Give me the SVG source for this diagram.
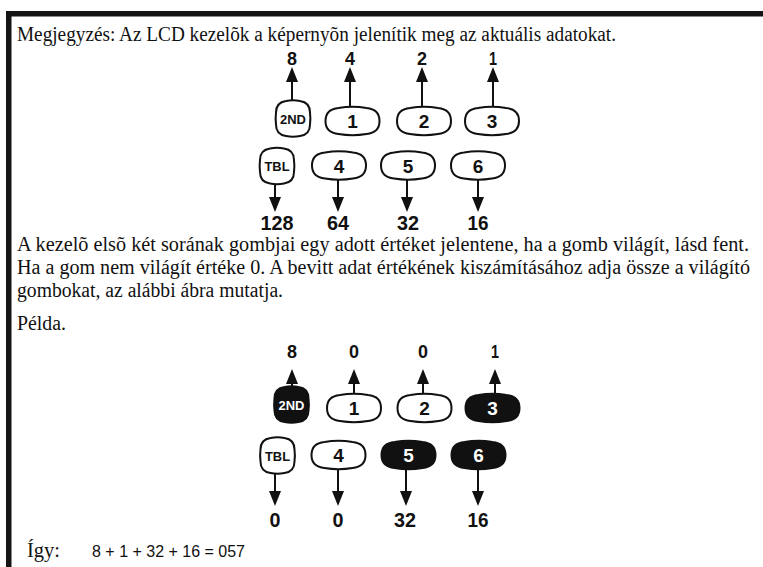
<svg xmlns="http://www.w3.org/2000/svg" width="763" height="567" viewBox="0 0 763 567">
  <style>
    .body { font-family: "Liberation Serif", "Times New Roman", serif; font-size: 20.5px; fill: #111; }
    .val { font-family: "Liberation Sans", Arial, sans-serif; font-weight: bold; font-size: 18px; fill: #111; text-anchor: middle; }
    .valb { font-family: "Liberation Sans", Arial, sans-serif; font-weight: bold; font-size: 20px; fill: #111; text-anchor: middle; }
    .key { fill: #fff; stroke: #111; stroke-width: 2; }
    .key.on { fill: #111; }
    .klab { font-family: "Liberation Sans", Arial, sans-serif; font-weight: bold; font-size: 19px; fill: #111; text-anchor: middle; }
    .ksm { font-family: "Liberation Sans", Arial, sans-serif; font-weight: bold; font-size: 13px; fill: #111; text-anchor: middle; }
    .on-t { fill: #fff; }
    .wire { stroke: #111; stroke-width: 2; fill: none; }
    .head { fill: #111; }
    .formula { font-family: "Liberation Sans", Arial, sans-serif; font-size: 16px; fill: #111; }
  </style>
  <defs>
    <!-- pill-shaped key, centred on the origin -->
    <path id="pill" d="M -14,-13 C -5,-14.5 5,-14.5 14,-13 C 24,-12 27,-6 27,0 C 27,6 24,12 14,13 C 5,14.5 -5,14.5 -14,13 C -24,12 -27,6 -27,0 C -27,-6 -24,-12 -14,-13 Z"/>
    <!-- square-ish function key, centred on the origin -->
    <path id="sq" d="M -7,-17.5 C -2,-18.5 2,-18.5 7,-17.5 C 14,-16.5 17,-13 17,-6 C 17.5,-2 17.5,2 17,6 C 17,13 14,16.5 7,17.5 C 2,18.5 -2,18.5 -7,17.5 C -14,16.5 -17,13 -17,6 C -17.5,2 -17.5,-2 -17,-6 C -17,-13 -14,-16.5 -7,-17.5 Z"/>
    <path id="up" d="M 0,0 L -6,15 L 6,15 Z"/>
    <path id="dn" d="M 0,0 L -6,-15 L 6,-15 Z"/>
  </defs>

  <rect width="763" height="567" fill="#fff"/>
  <!-- page frame: top and left rules -->
  <rect x="6" y="11" width="757" height="5.5" fill="#151515"/>
  <rect x="6" y="11" width="5.5" height="556" fill="#151515"/>

  <text class="body" x="17" y="41" textLength="599" lengthAdjust="spacingAndGlyphs">Megjegyzés: Az LCD kezelõk a képernyõn jelenítik meg az aktuális adatokat.</text>

  <!-- upper keypad: value of each key -->
  <g id="legend">
    <g id="connectors-legend">
      <line class="wire" x1="292" y1="101" x2="292" y2="80"/><use href="#up" x="292" y="67" class="head"/>
      <line class="wire" x1="350" y1="108" x2="350" y2="80"/><use href="#up" x="350" y="67" class="head"/>
      <line class="wire" x1="422" y1="108" x2="422" y2="80"/><use href="#up" x="422" y="67" class="head"/>
      <line class="wire" x1="493" y1="108" x2="493" y2="80"/><use href="#up" x="493" y="67" class="head"/>
      <line class="wire" x1="275" y1="184" x2="275" y2="200"/><use href="#dn" x="275" y="212" class="head"/>
      <line class="wire" x1="338" y1="178" x2="338" y2="200"/><use href="#dn" x="338" y="212" class="head"/>
      <line class="wire" x1="407" y1="178" x2="407" y2="200"/><use href="#dn" x="407" y="212" class="head"/>
      <line class="wire" x1="478" y1="178" x2="478" y2="200"/><use href="#dn" x="478" y="212" class="head"/>
    </g>
    <text class="val" x="292" y="65" textLength="10" lengthAdjust="spacingAndGlyphs">8</text>
    <text class="val" x="350" y="65" textLength="10" lengthAdjust="spacingAndGlyphs">4</text>
    <text class="val" x="422" y="65" textLength="10" lengthAdjust="spacingAndGlyphs">2</text>
    <text class="val" x="493" y="65" textLength="8" lengthAdjust="spacingAndGlyphs">1</text>

    <g id="key-2nd-a"><use href="#sq" x="293" y="118.5" class="key"/><text class="ksm" x="293" y="123.5" textLength="26" lengthAdjust="spacingAndGlyphs">2ND</text></g>
    <g id="key-1-a"><use href="#pill" x="352.5" y="121" class="key"/><text class="klab" x="352.5" y="128">1</text></g>
    <g id="key-2-a"><use href="#pill" x="424" y="121" class="key"/><text class="klab" x="424" y="128">2</text></g>
    <g id="key-3-a"><use href="#pill" x="492" y="121" class="key"/><text class="klab" x="492" y="128">3</text></g>

    <g id="key-tbl-a"><use href="#sq" x="277" y="166" class="key"/><text class="ksm" x="277" y="171" textLength="25" lengthAdjust="spacingAndGlyphs">TBL</text></g>
    <g id="key-4-a"><use href="#pill" x="339" y="165.5" class="key"/><text class="klab" x="339" y="172.5">4</text></g>
    <g id="key-5-a"><use href="#pill" x="408" y="165.5" class="key"/><text class="klab" x="408" y="172.5">5</text></g>
    <g id="key-6-a"><use href="#pill" x="478" y="165.5" class="key"/><text class="klab" x="478" y="172.5">6</text></g>

    <text class="valb" x="277" y="230" textLength="33" lengthAdjust="spacingAndGlyphs">128</text>
    <text class="valb" x="338" y="230" textLength="22" lengthAdjust="spacingAndGlyphs">64</text>
    <text class="valb" x="408" y="230" textLength="22" lengthAdjust="spacingAndGlyphs">32</text>
    <text class="valb" x="478" y="230" textLength="21" lengthAdjust="spacingAndGlyphs">16</text>
  </g>

  <text class="body" x="17" y="251" textLength="732" lengthAdjust="spacingAndGlyphs">A kezelõ elsõ két sorának gombjai egy adott értéket jelentene, ha a gomb világít, lásd fent.</text>
  <text class="body" x="17" y="274" textLength="733" lengthAdjust="spacingAndGlyphs">Ha a gom nem világít értéke 0. A bevitt adat értékének kiszámításához adja össze a világító</text>
  <text class="body" x="17" y="297" textLength="266" lengthAdjust="spacingAndGlyphs">gombokat, az alábbi ábra mutatja.</text>
  <text class="body" x="17" y="330" textLength="49" lengthAdjust="spacingAndGlyphs">Példa.</text>

  <!-- lower keypad: worked example, lit keys filled -->
  <g id="example">
    <g id="connectors-example">
      <line class="wire" x1="292" y1="388" x2="292" y2="382"/><use href="#up" x="292" y="369" class="head"/>
      <line class="wire" x1="354" y1="395" x2="354" y2="382"/><use href="#up" x="354" y="369" class="head"/>
      <line class="wire" x1="423" y1="395" x2="423" y2="382"/><use href="#up" x="423" y="369" class="head"/>
      <line class="wire" x1="495" y1="395" x2="495" y2="382"/><use href="#up" x="495" y="369" class="head"/>
      <line class="wire" x1="275" y1="473" x2="275" y2="493"/><use href="#dn" x="275" y="506" class="head"/>
      <line class="wire" x1="338" y1="468" x2="338" y2="493"/><use href="#dn" x="338" y="506" class="head"/>
      <line class="wire" x1="406" y1="468" x2="406" y2="493"/><use href="#dn" x="406" y="506" class="head"/>
      <line class="wire" x1="478" y1="468" x2="478" y2="493"/><use href="#dn" x="478" y="506" class="head"/>
    </g>
    <text class="val" x="292" y="358" textLength="10" lengthAdjust="spacingAndGlyphs">8</text>
    <text class="val" x="354" y="358" textLength="10" lengthAdjust="spacingAndGlyphs">0</text>
    <text class="val" x="423" y="358" textLength="10" lengthAdjust="spacingAndGlyphs">0</text>
    <text class="val" x="495" y="358" textLength="8" lengthAdjust="spacingAndGlyphs">1</text>

    <g id="key-2nd-b"><use href="#sq" x="291.5" y="404.5" class="key on"/><text class="ksm on-t" x="291.5" y="409.5" textLength="26" lengthAdjust="spacingAndGlyphs">2ND</text></g>
    <g id="key-1-b"><use href="#pill" x="354" y="408" class="key"/><text class="klab" x="354" y="415">1</text></g>
    <g id="key-2-b"><use href="#pill" x="424.5" y="408" class="key"/><text class="klab" x="424.5" y="415">2</text></g>
    <g id="key-3-b"><use href="#pill" x="492.5" y="408" class="key on"/><text class="klab on-t" x="492.5" y="415">3</text></g>

    <g id="key-tbl-b"><use href="#sq" x="277.5" y="455.5" class="key"/><text class="ksm" x="277.5" y="460.5" textLength="25" lengthAdjust="spacingAndGlyphs">TBL</text></g>
    <g id="key-4-b"><use href="#pill" x="338.5" y="455" class="key"/><text class="klab" x="338.5" y="462">4</text></g>
    <g id="key-5-b"><use href="#pill" x="408.5" y="455" class="key on"/><text class="klab on-t" x="408.5" y="462">5</text></g>
    <g id="key-6-b"><use href="#pill" x="478.5" y="455" class="key on"/><text class="klab on-t" x="478.5" y="462">6</text></g>

    <text class="valb" x="275" y="527" textLength="11" lengthAdjust="spacingAndGlyphs">0</text>
    <text class="valb" x="338" y="527" textLength="11" lengthAdjust="spacingAndGlyphs">0</text>
    <text class="valb" x="405" y="527" textLength="22" lengthAdjust="spacingAndGlyphs">32</text>
    <text class="valb" x="478" y="527" textLength="21" lengthAdjust="spacingAndGlyphs">16</text>
  </g>

  <text class="body" x="27" y="557" textLength="33" lengthAdjust="spacingAndGlyphs">Így:</text>
  <text class="formula" x="92" y="557" textLength="153" lengthAdjust="spacingAndGlyphs">8 + 1 + 32 + 16 = 057</text>
</svg>
